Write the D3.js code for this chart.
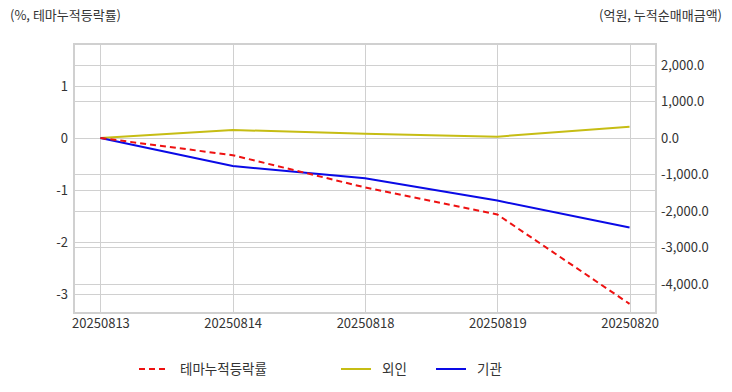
<!DOCTYPE html>
<html><head><meta charset="utf-8">
<script src="https://cdn.jsdelivr.net/npm/d3@7"></script>
<style>
body{margin:0;background:#fff;}
text{font-family:"Noto Sans CJK KR","Noto Sans",sans-serif;}
</style></head>
<body><svg id="c" width="732" height="392"></svg>
<script>
const dates = ["20250813","20250814","20250818","20250819","20250820"];
const themeRate = [0, -0.33, -0.95, -1.47, -3.19];
const foreign = [0, 220, 115, 36, 310];
const institution = [0, -767, -1105, -1715, -2450];
const leftTicks = [1, 0, -1, -2, -3];
const rightTicks = [2000, 1000, 0, -1000, -2000, -3000, -4000];

const svg = d3.select("#c");
const L = 74, R = 656, T = 44, B = 313;
const x = d3.scalePoint().domain(dates).range([L, R]).padding(0.2);
const yL = d3.scaleLinear().domain([-3.365, 1.808]).range([B, T]);
const yR = d3.scaleLinear().domain([-4795, 2575]).range([B, T]);
const grid = "#d0d0d0";
const hy = s => s.replace(/\u2212/g, "-");

// grid
const g = svg.append("g");
g.selectAll(".gl").data(leftTicks).join("line").attr("class","gl")
  .attr("x1", L).attr("x2", R).attr("y1", d => Math.round(yL(d)) + 0.5).attr("y2", d => Math.round(yL(d)) + 0.5)
  .attr("stroke", grid);
g.selectAll(".gr").data(rightTicks).join("line").attr("class","gr")
  .attr("x1", L).attr("x2", R).attr("y1", d => Math.round(yR(d)) + 0.5).attr("y2", d => Math.round(yR(d)) + 0.5)
  .attr("stroke", grid);
g.selectAll(".gv").data(dates).join("line").attr("class","gv")
  .attr("x1", d => Math.round(x(d)) + 0.5).attr("x2", d => Math.round(x(d)) + 0.5).attr("y1", T).attr("y2", B)
  .attr("stroke", grid);
svg.append("rect").attr("x", L).attr("y", T).attr("width", R - L).attr("height", B - T)
  .attr("fill", "none").attr("stroke", grid).attr("stroke-width", 2);

// axes
const fL = d3.format("d"), fR = d3.format(",.1f");
const axL = d3.axisLeft(yL).tickValues(leftTicks).tickSize(0).tickPadding(6).tickFormat(d => hy(fL(d)));
const axR = d3.axisRight(yR).tickValues(rightTicks).tickSize(0).tickPadding(5).tickFormat(d => hy(fR(d)));
const axB = d3.axisBottom(x).tickSize(0).tickPadding(6);
[[axL, `translate(${L},0)`], [axR, `translate(${R},0)`], [axB, `translate(0,${B})`]].forEach(([a, t]) => {
  const ag = svg.append("g").attr("transform", t).call(a);
  ag.select(".domain").remove();
  ag.selectAll("text").attr("fill", "#333").style("font-size", "13px")
    .style("font-family", '"Noto Sans CJK KR","Noto Sans",sans-serif');
});

// lines
const idx = dates.map((d, i) => i);
const lineL = d3.line().x(i => x(dates[i])).y(i => yL(themeRate[i]));
const lineF = d3.line().x(i => x(dates[i])).y(i => yR(foreign[i]));
const lineI = d3.line().x(i => x(dates[i])).y(i => yR(institution[i]));
svg.append("path").attr("d", lineF(idx)).attr("fill", "none").attr("stroke", "#c6bd14").attr("stroke-width", 2);
svg.append("path").attr("d", lineI(idx)).attr("fill", "none").attr("stroke", "#0a0ae6").attr("stroke-width", 2);
svg.append("path").attr("d", lineL(idx)).attr("fill", "none").attr("stroke", "#ee1111").attr("stroke-width", 2)
  .attr("stroke-dasharray", "6,4");

// titles
svg.append("text").attr("x", 10).attr("y", 20).attr("fill", "#333").style("font-size", "13px").text("(%, 테마누적등락률)");
svg.append("text").attr("x", 722).attr("y", 20).attr("text-anchor", "end").attr("fill", "#333").style("font-size", "13px").text("(억원, 누적순매매금액)");

// legend
const legend = [
  {name: "테마누적등락률", color: "#ee1111", dash: "6,4", x: 139},
  {name: "외인", color: "#c6bd14", dash: null, x: 341},
  {name: "기관", color: "#0a0ae6", dash: null, x: 436}
];
const lg = svg.selectAll(".lg").data(legend).join("g").attr("transform", d => `translate(${d.x},369)`);
lg.append("line").attr("x1", 0).attr("x2", 30).attr("y1", 0).attr("y2", 0)
  .attr("stroke", d => d.color).attr("stroke-width", 2).attr("stroke-dasharray", d => d.dash);
lg.append("text").attr("x", 41).attr("y", 5).attr("fill", "#333").style("font-size", "13.5px").text(d => d.name);
</script></body></html>
